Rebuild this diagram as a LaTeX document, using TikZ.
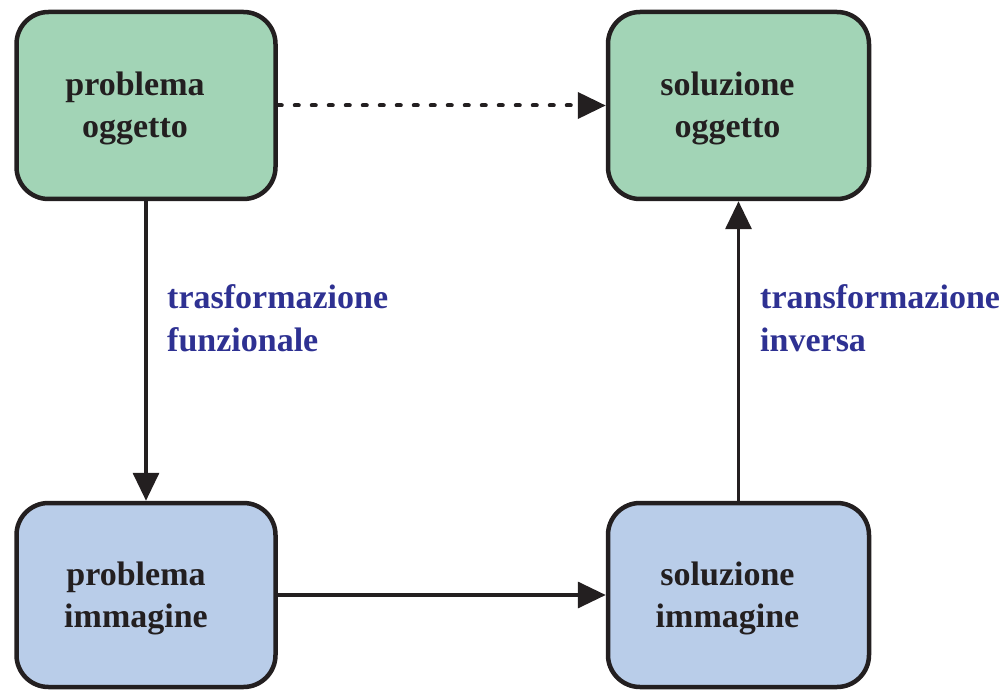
\documentclass[tikz,border=0pt]{standalone}
\usepackage{fontspec}
\setmainfont{Liberation Serif}
\usetikzlibrary{arrows.meta}
\definecolor{boxgreen}{RGB}{162, 212, 182}
\definecolor{boxblue}{RGB}{185, 205, 233}
\definecolor{labelblue}{RGB}{46, 49, 146}
\definecolor{linedark}{RGB}{35, 31, 32}

\begin{document}
\begin{tikzpicture}[x=1pt, y=-1pt,
    stagebox/.style={draw=linedark, line width=4.5pt, rounded corners=32pt, minimum width=259pt, minimum height=187pt},
    boxtext/.style={align=center, inner sep=0pt, text=linedark, font=\bfseries\fontsize{34}{42}\selectfont},
    steptext/.style={align=left, anchor=west, inner sep=0pt, text=labelblue, font=\bfseries\fontsize{34}{43}\selectfont},
    flow/.style={line width=3.5pt, draw=linedark, -{Triangle[length=28pt, width=26pt]}}]
    \useasboundingbox (0,0) rectangle (1005,690);

    % Boxes
    \node[stagebox, fill=boxgreen] (po) at (146,105.5) {};
    \node[stagebox, fill=boxgreen, minimum width=261pt] (so) at (738.5,105.5) {};
    \node[stagebox, fill=boxblue, minimum height=184pt] (pi) at (146,595) {};
    \node[stagebox, fill=boxblue, minimum width=261pt, minimum height=184pt] (si) at (738.5,595) {};

    % Box texts
    \node[boxtext] (po-text) at ([xshift=-11pt, yshift=-3pt]po.center) {problema\\oggetto};
    \node[boxtext] (so-text) at ([xshift=-11pt, yshift=-3pt]so.center) {soluzione\\oggetto};
    \node[boxtext] (pi-text) at ([xshift=-10pt, yshift=-3pt]pi.center) {problema\\immagine};
    \node[boxtext] (si-text) at ([xshift=-11pt, yshift=-3pt]si.center) {soluzione\\immagine};

    % Arrows
    \draw[flow] (po) -- (pi);
    \draw[flow] (pi) -- (si);
    \draw[flow] (si) -- (so);
    \draw[flow, line width=4pt, dash pattern=on 4pt off 13pt, line cap=round] (po) -- (so);

    % Arrow labels
    \node[steptext] (tf) at (167,318) {trasformazione\\funzionale};
    \node[steptext] (ti) at (760,318) {transformazione\\inversa};
\end{tikzpicture}
\end{document}
